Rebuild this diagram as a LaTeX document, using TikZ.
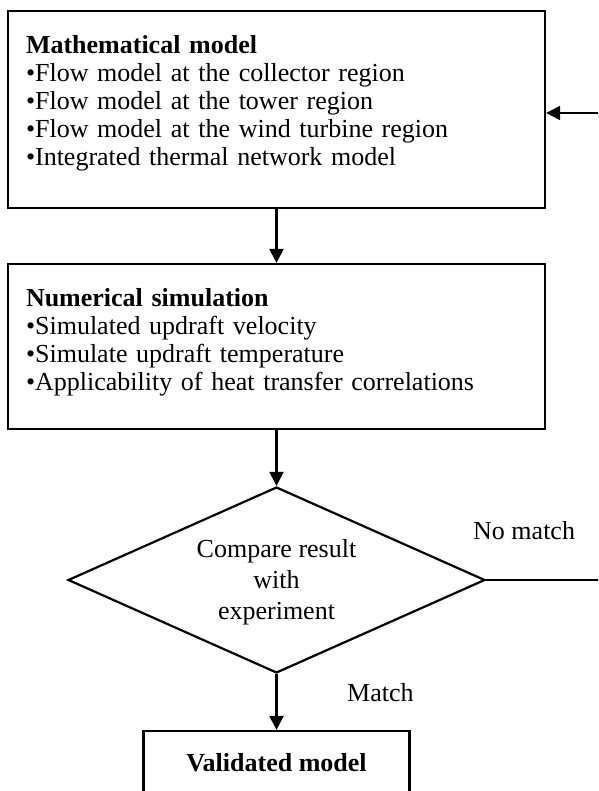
\documentclass[tikz,border=0pt]{standalone}
\usepackage{fontspec}
\setmainfont{Liberation Serif}
\usetikzlibrary{shapes.geometric,arrows.meta}
\begin{document}
\begin{tikzpicture}[x=1pt,y=-1pt,
  every node/.style={font=\fontsize{26}{28}\selectfont},
  boxstyle/.style={draw,line width=2.2pt,inner xsep=18pt,inner ysep=0pt,align=left},
  conn/.style={line width=2.2pt,-{Triangle[length=14pt,width=14pt]}},
  lbl/.style={inner sep=0pt,anchor=base west}]
\useasboundingbox (0,0) rectangle (598,791);
\clip (0,0) rectangle (598,791);
\node[boxstyle,minimum width=537pt,minimum height=197pt,text width=501pt] (math) at (276.5,109.5)
 {\textbf{Mathematical model}\\
  •Flow model at the collector region\\
  •Flow model at the tower region\\
  •Flow model at the wind turbine region\\
  •Integrated thermal network model\rule[-18.8pt]{0pt}{1pt}};
\node[boxstyle,minimum width=537pt,minimum height=165pt,text width=501pt] (num) at (276.5,346.5)
 {\textbf{Numerical simulation}\\
  •Simulated updraft velocity\\
  •Simulate updraft temperature\\
  •Applicability of heat transfer correlations\rule[-14.8pt]{0pt}{1pt}};
\node[draw,diamond,aspect=2.24,line width=2.2pt,inner sep=0pt,minimum width=417pt,minimum height=186pt,align=center,
  font=\fontsize{26}{31}\selectfont] (cmp) at (276.5,580)
 {\rule{0pt}{21.6pt}Compare result\\with\\experiment};
\node[boxstyle,align=center,inner xsep=0pt,minimum width=266pt,minimum height=64.2pt] (val) at (276.5,763.1)
 {\textbf{Validated model}};
\coordinate (c1) at (620,580);
\coordinate (c2) at (620,113);
\draw[conn] (math.south) -- (num.north);
\draw[conn] (num.south) -- (cmp.north);
\draw[conn] (cmp.south) -- (val.north);
\draw[conn] (cmp.east) -- (c1) -- (c2) -- (c2 -| math.east);
\node[lbl] (nomatch) at (473,539) {No match};
\node[lbl] (match) at (347,701) {Match};
\end{tikzpicture}
\end{document}
